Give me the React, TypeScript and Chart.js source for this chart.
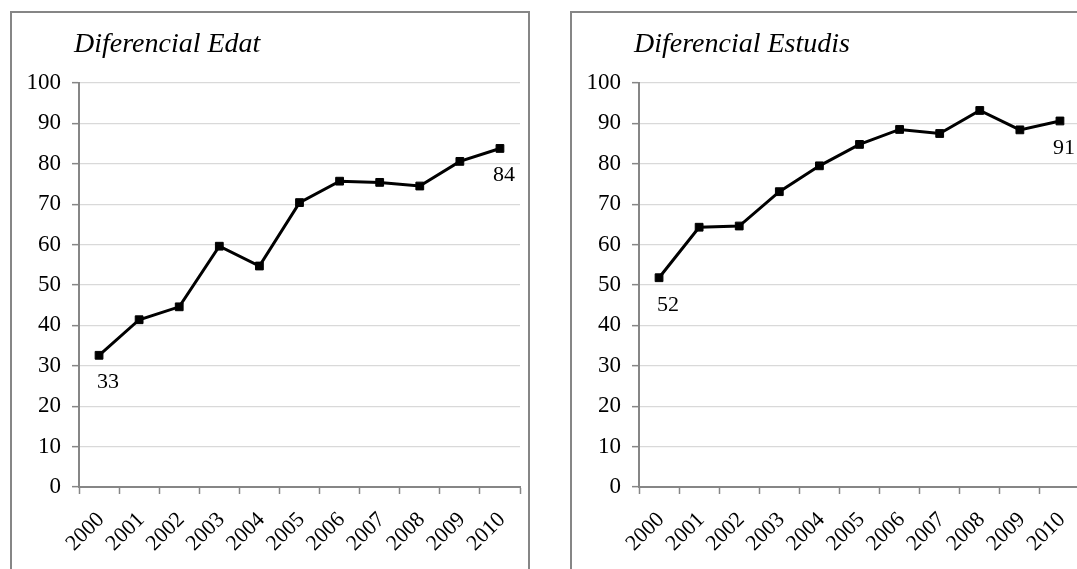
import React, { useEffect, useRef } from "react";
import { Chart, registerables } from "chart.js";

Chart.register(...registerables);

const years = ["2000", "2001", "2002", "2003", "2004", "2005", "2006", "2007", "2008", "2009", "2010"];
const edatValues = [32.6, 41.4, 44.6, 59.6, 54.7, 70.4, 75.7, 75.4, 74.5, 80.6, 83.8];
const estudisValues = [51.8, 64.3, 64.6, 73.1, 79.5, 84.8, 88.5, 87.5, 93.2, 88.4, 90.6];
const yMin = 0;
const yMax = 100;
const yStep = 10;
const titleEdat = "Diferencial Edat";
const titleEstudis = "Diferencial Estudis";

const FONT = "'Liberation Serif', 'Times New Roman', serif";
const AXIS = "#868686";
const GRID = "#d9d9d9";

function overlayPlugin(title: string) {
  return {
    id: "overlay",
    afterDatasetsDraw(chart: any) {
      const ctx = chart.ctx;
      const { left, top } = chart.chartArea;
      ctx.save();
      ctx.fillStyle = "#000";
      ctx.font = `italic 28px ${FONT}`;
      ctx.textAlign = "left";
      ctx.textBaseline = "alphabetic";
      ctx.fillText(title, left - 5, top - 31);
      const meta = chart.getDatasetMeta(0);
      const data = chart.data.datasets[0].data as number[];
      ctx.font = `22px ${FONT}`;
      ctx.textAlign = "center";
      const marks: [number, number][] = [
        [0, 9],
        [data.length - 1, 4],
      ];
      marks.forEach(([i, dx]) => {
        const pt = meta.data[i];
        ctx.fillText(String(Math.round(data[i])), pt.x + dx, pt.y + 33);
      });
      ctx.restore();
    },
  };
}

function LineBox({ values, title, left }: { values: number[]; title: string; left: number }) {
  const ref = useRef<HTMLCanvasElement | null>(null);
  useEffect(() => {
    if (!ref.current) return;
    const chart = new Chart(ref.current, {
      type: "line",
      data: {
        labels: years,
        datasets: [
          {
            data: values,
            borderColor: "#000",
            backgroundColor: "#000",
            borderWidth: 3,
            pointStyle: "rect",
            pointRadius: 5.5,
            pointBorderWidth: 1,
            pointBackgroundColor: "#000",
            pointBorderColor: "#000",
            tension: 0,
            fill: false,
          },
        ],
      },
      options: {
        responsive: false,
        animation: false,
        layout: { padding: { left: 8, right: 9, top: 71, bottom: 0 } },
        plugins: {
          legend: { display: false },
          tooltip: { enabled: false },
          title: { display: false },
        },
        scales: {
          x: {
            type: "category",
            offset: true,
            grid: {
              offset: true,
              drawOnChartArea: false,
              drawTicks: true,
              tickLength: 7,
              tickColor: AXIS,
              tickWidth: 1.5,
            },
            border: { color: AXIS, width: 2 },
            ticks: {
              autoSkip: false,
              minRotation: 45,
              maxRotation: 45,
              padding: 13,
              labelOffset: 2,
              color: "#000",
              font: { family: FONT, size: 22 },
            },
            afterFit: (s: any) => {
              s.height = 82;
              s.paddingLeft = 0;
              s.paddingRight = 0;
            },
          },
          y: {
            min: yMin,
            max: yMax,
            ticks: {
              stepSize: yStep,
              padding: 11,
              color: "#000",
              font: { family: FONT, size: 23 },
            },
            grid: {
              color: GRID,
              lineWidth: 1.3,
              tickLength: 7,
              tickColor: AXIS,
              tickWidth: 1.5,
            },
            border: { color: AXIS, width: 2 },
            afterFit: (s: any) => {
              s.width = 60;
            },
          },
        },
      } as any,
      plugins: [overlayPlugin(title)],
    });
    return () => chart.destroy();
  }, [values, title]);

  return (
    <>
      <div
        style={{
          position: "absolute",
          left: left - 1,
          top: 11,
          width: 516,
          height: 600,
          border: `2px solid ${AXIS}`,
          boxSizing: "content-box",
        }}
      />
      <canvas
        ref={ref}
        width={518}
        height={557}
        style={{ position: "absolute", left: left, top: 12, width: 518, height: 557 }}
      />
    </>
  );
}

export default function App() {
  return (
    <div
      style={{
        position: "fixed",
        left: 0,
        top: 0,
        width: 1077,
        height: 569,
        overflow: "hidden",
        background: "#fff",
      }}
    >
      <LineBox values={edatValues} title={titleEdat} left={11} />
      <LineBox values={estudisValues} title={titleEstudis} left={571} />
    </div>
  );
}
